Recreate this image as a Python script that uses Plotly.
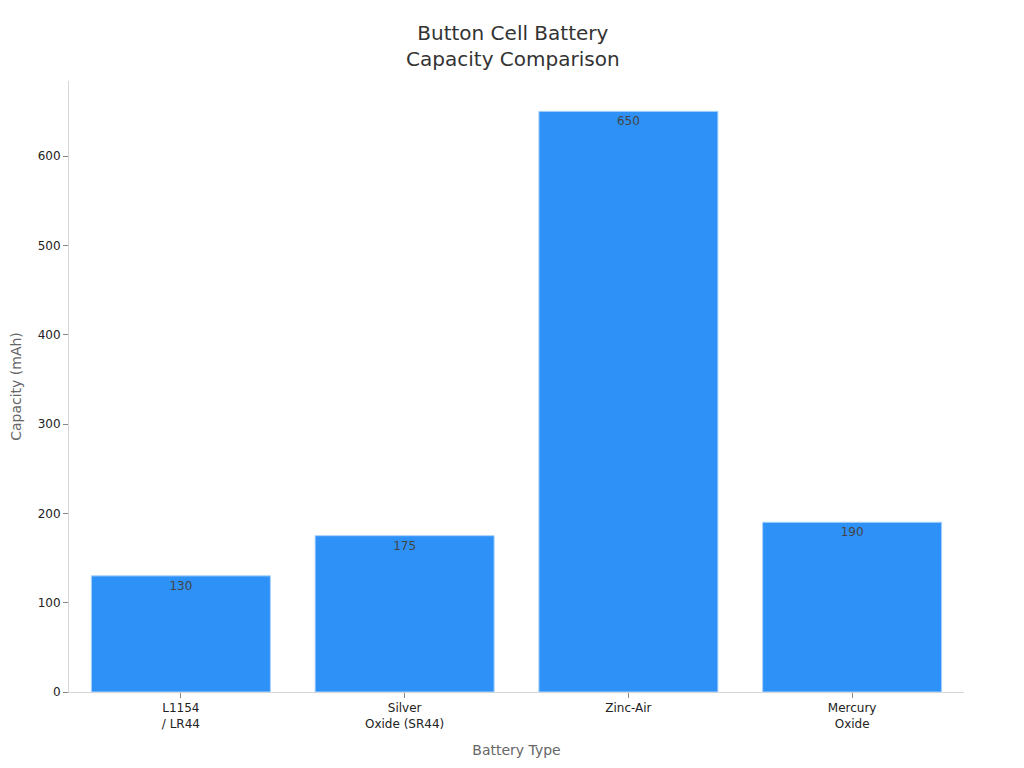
import plotly.graph_objects as go

categories = ["L1154<br>/ LR44", "Silver<br>Oxide (SR44)", "Zinc-Air", "Mercury<br>Oxide"]
capacity_mah = [130, 175, 650, 190]
y_ticks = [0, 100, 200, 300, 400, 500, 600]

fig = go.Figure(
    go.Bar(
        x=categories,
        y=capacity_mah,
        text=[str(v) for v in capacity_mah],
        textposition="inside",
        insidetextanchor="end",
        textfont=dict(color="#444444", size=12),
        marker=dict(color="#2E91F8", line=dict(color="#A9D2FB", width=1)),
        cliponaxis=False,
    )
)

fig.update_layout(
    width=1024,
    height=768,
    font=dict(family="DejaVu Sans", color="#333333"),
    title=dict(
        text="Button Cell Battery<br>Capacity Comparison",
        x=0.493,
        xanchor="center",
        y=0.958,
        yanchor="top",
        font=dict(size=20, color="#333333"),
    ),
    paper_bgcolor="white",
    plot_bgcolor="white",
    margin=dict(l=61, r=68, t=73, b=84),
    bargap=0.2,
    showlegend=False,
    xaxis=dict(
        title=dict(text="Battery Type", font=dict(size=14, color="#666666"), standoff=15),
        showline=True,
        linecolor="#D6D6D6",
        linewidth=1,
        ticks="outside",
        ticklen=5,
        tickcolor="#888888",
        tickfont=dict(size=12, color="#222222"),
        showgrid=False,
        automargin=False,
    ),
    yaxis=dict(
        title=dict(text="Capacity (mAh)", font=dict(size=14, color="#666666")),
        range=[0, 684],
        tickvals=y_ticks,
        showline=True,
        linecolor="#D6D6D6",
        linewidth=1,
        ticks="outside",
        ticklen=5,
        tickcolor="#888888",
        tickfont=dict(size=12, color="#222222"),
        showgrid=False,
        zeroline=False,
        automargin=False,
    ),
)

fig.write_html("out.html")
